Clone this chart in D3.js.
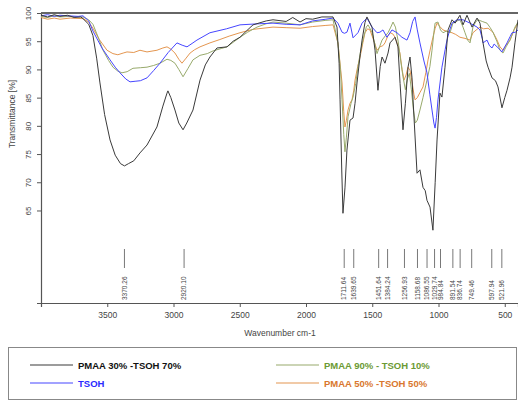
<!DOCTYPE html>
<html>
<head>
<meta charset="utf-8">
<script src="https://cdn.jsdelivr.net/npm/d3@7"></script>
<style>
  body { margin: 0; background: #fff; }
  svg { display: block; font-family: "Liberation Sans", Arial, sans-serif; }
</style>
</head>
<body>
<svg id="chart" width="518" height="405"></svg>
<script>
// ---------- data ----------
const xTicks = [3500, 3000, 2500, 2000, 1500, 1000, 500];
const yTicks = [65, 70, 75, 80, 85, 90, 95, 100];
const peakLabels = ["3370.26","2920.10","1711.64","1639.65","1451.64","1384.24","1256.93","1158.68","1086.55","1029.74","984.84","891.54","836.74","749.46","597.94","521.96"];
const peakPositions = [3370.26,2920.10,1711.64,1639.65,1451.64,1384.24,1256.93,1158.68,1086.55,1029.74,984.84,891.54,836.74,749.46,597.94,521.96];

const seriesNames = ["PMAA 30% -TSOH 70%", "TSOH", "PMAA 90% - TSOH 10%", "PMAA 50% -TSOH 50%"];

// [wavenumber, transmittance]
const pmaa30 = [
 [4000,99.6],[3950,99.3],[3900,99.7],[3857,99.4],[3800,99.6],[3750,99.2],[3700,99.3],[3683,99.0],
 [3640,98.0],[3608,96.0],[3580,92.0],[3555,87.6],[3520,82.0],[3479,77.5],[3440,74.8],[3400,73.3],
 [3370,72.9],[3340,73.3],[3300,73.8],[3253,75.2],[3200,76.6],[3125,79.8],[3080,83.5],[3049,85.8],
 [3042,86.2],[3020,85.0],[2989,82.8],[2960,80.5],[2928,79.3],[2900,80.5],[2853,82.8],[2800,88.1],
 [2760,90.8],[2725,92.2],[2672,93.8],[2596,94.0],[2550,95.0],[2498,95.7],[2450,96.8],[2400,97.9],
 [2300,98.6],[2249,98.8],[2150,98.5],[2100,99.2],[2045,98.4],[2000,99.0],[1950,98.9],[1880,99.3],
 [1796,99.3],[1766,97.5],[1750,91.0],[1743,84.6],[1730,72.0],[1721,64.5],[1706,69.0],[1691,75.7],
 [1668,81.0],[1645,81.4],[1630,84.0],[1615,87.6],[1590,92.8],[1577,95.2],[1555,98.3],[1540,99.3],
 [1502,97.5],[1479,93.4],[1457,86.3],[1440,90.5],[1426,92.2],[1404,91.1],[1381,92.9],[1366,94.7],
 [1328,95.7],[1306,94.0],[1290,87.5],[1268,79.3],[1250,84.0],[1230,90.4],[1215,92.2],[1200,88.5],
 [1192,84.6],[1162,71.6],[1140,72.2],[1117,69.1],[1100,68.5],[1087,66.8],[1064,65.6],[1042,61.5],
 [1025,70.0],[1011,77.5],[989,85.8],[974,85.1],[951,90.4],[928,97.0],[898,98.8],[875,98.2],
 [838,99.6],[815,97.9],[785,99.6],[747,97.5],[709,99.1],[687,98.2],[664,94.7],[640,91.5],
 [626,90.4],[596,88.5],[570,88.0],[551,86.9],[521,83.2],[500,85.0],[483,86.3],[460,88.5],
 [445,90.4],[423,94.7],[400,98.8]
];

const tsoh = [
 [4000,99.5],[3950,99.7],[3900,99.4],[3857,99.6],[3800,99.5],[3720,99.4],[3683,99.5],[3640,98.6],
 [3608,96.8],[3540,93.8],[3479,91.7],[3440,90.4],[3404,89.4],[3360,88.3],[3328,87.8],[3290,87.9],
 [3250,88.0],[3200,88.5],[3150,89.8],[3102,91.1],[3040,93.0],[2974,94.7],[2935,94.3],[2898,94.0],
 [2860,94.6],[2823,95.2],[2725,96.5],[2600,97.2],[2498,97.9],[2350,98.1],[2249,98.2],[2150,98.0],
 [2045,97.9],[1950,98.6],[1850,98.9],[1796,99.1],[1759,98.2],[1728,96.6],[1710,96.4],[1691,96.6],
 [1668,98.2],[1645,95.6],[1608,96.5],[1577,98.2],[1540,99.1],[1502,97.5],[1464,96.5],[1442,96.6],
 [1419,97.0],[1389,95.7],[1351,97.0],[1313,96.5],[1276,95.7],[1238,95.2],[1215,96.5],[1195,98.5],
 [1177,99.3],[1160,97.0],[1140,94.7],[1110,91.5],[1087,89.4],[1065,85.5],[1049,82.8],[1035,80.5],
 [1026,79.6],[1015,81.5],[1004,84.6],[974,90.4],[950,93.5],[936,95.2],[915,97.0],[898,98.2],
 [860,98.8],[815,98.8],[762,98.2],[709,97.5],[687,97.0],[670,95.5],[664,94.7],[634,95.2],
 [615,94.2],[596,93.8],[580,94.5],[558,94.0],[540,93.6],[521,93.1],[500,94.0],[483,94.7],
 [460,95.8],[445,96.5],[420,96.6],[400,97.0]
];

const pmaa90 = [
 [4000,99.4],[3950,99.2],[3900,99.5],[3857,99.3],[3780,99.4],[3683,99.3],[3640,98.8],[3608,98.0],
 [3570,95.8],[3532,93.4],[3490,91.6],[3457,90.4],[3420,89.7],[3389,89.4],[3350,89.6],[3306,90.2],
 [3250,90.3],[3200,90.4],[3150,90.7],[3102,91.1],[3049,91.8],[3020,91.6],[2989,91.1],[2960,90.0],
 [2928,88.7],[2890,90.2],[2853,91.7],[2800,92.5],[2745,92.8],[2700,93.3],[2640,93.7],[2596,94.0],
 [2498,95.7],[2440,96.6],[2370,97.5],[2300,98.1],[2249,98.4],[2150,98.2],[2045,97.9],[1950,98.4],
 [1850,98.7],[1796,98.8],[1759,94.7],[1740,90.0],[1728,84.6],[1715,78.5],[1706,75.4],[1695,78.0],
 [1683,81.6],[1660,84.0],[1645,85.1],[1625,87.5],[1608,90.4],[1590,93.0],[1570,95.2],[1545,97.5],
 [1532,97.9],[1502,96.6],[1480,94.5],[1464,92.8],[1445,94.0],[1426,95.2],[1400,96.0],[1381,96.5],
 [1360,97.5],[1343,98.4],[1325,97.5],[1306,95.2],[1285,91.5],[1268,88.7],[1250,86.4],[1235,88.3],
 [1220,89.3],[1205,86.5],[1190,83.0],[1175,80.5],[1160,81.0],[1140,82.8],[1117,85.0],[1087,88.1],
 [1065,90.5],[1049,93.4],[1035,96.5],[1026,98.2],[1004,98.4],[985,97.0],[966,96.5],[940,96.8],
 [913,96.5],[891,98.2],[860,98.6],[838,98.8],[815,97.5],[800,96.5],[780,95.2],[762,94.7],
 [740,97.5],[720,98.4],[702,98.8],[670,98.5],[634,98.2],[610,97.4],[589,96.6],[560,95.0],
 [536,93.4],[513,92.9],[490,94.0],[460,95.2],[440,96.4],[423,97.5],[400,98.4]
];

const pmaa50 = [
 [4000,99.2],[3950,98.9],[3900,99.1],[3857,98.9],[3780,99.1],[3683,99.0],[3640,98.4],[3608,97.3],
 [3560,95.3],[3502,93.4],[3457,92.8],[3420,92.6],[3380,92.9],[3351,93.1],[3300,93.0],[3253,93.4],
 [3200,93.1],[3125,93.4],[3080,93.8],[3049,94.0],[3020,93.6],[2989,92.9],[2960,91.8],[2936,91.1],
 [2905,92.0],[2875,92.9],[2840,93.5],[2800,94.0],[2725,94.7],[2650,95.3],[2580,95.9],[2498,96.5],
 [2400,97.1],[2249,97.5],[2150,97.4],[2045,97.3],[1950,97.6],[1850,97.8],[1796,97.9],[1759,94.7],
 [1745,91.5],[1728,87.6],[1715,82.5],[1706,79.8],[1695,81.0],[1683,82.8],[1668,84.0],[1653,84.6],
 [1640,86.2],[1630,88.1],[1610,90.5],[1592,92.2],[1570,94.8],[1555,96.5],[1535,97.2],[1517,97.0],
 [1490,95.2],[1464,93.4],[1442,94.0],[1420,94.2],[1404,94.7],[1385,95.8],[1366,96.5],[1345,96.3],
 [1328,95.7],[1310,94.5],[1291,92.9],[1275,90.0],[1260,88.1],[1245,89.0],[1230,90.4],[1215,89.8],
 [1200,87.8],[1185,85.5],[1177,84.6],[1160,85.0],[1140,85.9],[1117,86.9],[1095,89.5],[1079,91.7],
 [1060,93.8],[1042,95.7],[1025,97.3],[1011,98.2],[990,97.6],[966,97.0],[930,96.7],[898,96.5],
 [870,96.2],[838,95.7],[800,95.5],[762,95.2],[740,96.5],[710,97.1],[687,97.5],[660,97.2],
 [626,97.3],[610,97.0],[589,96.6],[560,95.3],[536,94.0],[513,93.4],[490,94.3],[460,95.2],
 [430,97.0],[400,98.2]
];

// ---------- layout ----------
const svg = d3.select("#chart");
const mLeft = 41, mRight = 518, mTop = 13, mBottom = 303;
const x = d3.scaleLinear().domain([4000, 400]).range([mLeft, mRight]);
const y = d3.scaleLinear().domain([48.6, 100]).range([mBottom, mTop]);

const colors = ["#3a3a3a", "#4646ff", "#98aa6c", "#e49650"];
const textColors = ["#111111", "#2a2aff", "#6c9a34", "#d9772e"];
const seriesData = [pmaa30, tsoh, pmaa90, pmaa50];

// axes
const xAxis = d3.axisBottom(x).tickValues(xTicks).tickSize(4).tickFormat(d3.format("d"));
const gx = svg.append("g").attr("transform", `translate(0,${mBottom})`).call(xAxis);
gx.select(".domain").attr("stroke", "#555").attr("stroke-width", 1.2);
gx.selectAll(".tick line").attr("stroke", "#555");
gx.selectAll(".tick text").attr("fill", "#444").attr("font-size", 8.5).attr("dy", "0.9em");

const yAxis = d3.axisLeft(y).tickValues(yTicks).tickSize(4).tickFormat(d3.format("d"));
const gy = svg.append("g").attr("transform", `translate(${mLeft},0)`).call(yAxis);
gy.select(".domain").attr("stroke", "#555").attr("stroke-width", 1.2);
gy.selectAll(".tick line").attr("stroke", "#555");
gy.selectAll(".tick text")
  .attr("fill", "#444").attr("font-size", 8)
  .attr("text-anchor", "middle")
  .attr("transform", "translate(-13,0) rotate(-90)")
  .attr("x", 0).attr("y", 0).attr("dy", "0.32em");

// top border
svg.append("line").attr("x1", mLeft).attr("x2", mRight).attr("y1", y(100)).attr("y2", y(100))
  .attr("stroke", "#666").attr("stroke-width", 2.2);

// axis titles
svg.append("text").attr("x", 280).attr("y", 336).attr("text-anchor", "middle")
  .attr("font-size", 8.5).attr("fill", "#444").text("Wavenumber cm-1");
svg.append("text").attr("transform", "translate(15,114) rotate(-90)").attr("text-anchor", "middle")
  .attr("font-size", 8.5).attr("fill", "#444").text("Transmittance [%]");

// spectra
const line = d3.line().x(d => x(d[0])).y(d => y(d[1]));
const drawOrder = [3, 2, 1, 0];
drawOrder.forEach(i => {
  svg.append("path").datum(seriesData[i]).attr("d", line)
    .attr("fill", "none").attr("stroke", colors[i]).attr("stroke-width", 1);
});

// peak labels
const pg = svg.append("g");
peakPositions.forEach((p, i) => {
  pg.append("line").attr("x1", x(p)).attr("x2", x(p)).attr("y1", 249).attr("y2", 268)
    .attr("stroke", "#555").attr("stroke-width", 0.8);
  pg.append("text").attr("transform", `translate(${x(p)},300) rotate(-90)`)
    .attr("dy", "0.32em").attr("font-size", 6.5).attr("fill", "#444").text(peakLabels[i]);
});

// legend
svg.append("rect").attr("x", 8.5).attr("y", 347.5).attr("width", 508).attr("height", 52)
  .attr("fill", "none").attr("stroke", "#888").attr("stroke-width", 1);
const legPos = [[30, 365], [30, 383], [276, 365], [276, 383]];
seriesNames.forEach((n, i) => {
  const [lx, ly] = legPos[i];
  svg.append("line").attr("x1", lx).attr("x2", lx + 43).attr("y1", ly).attr("y2", ly)
    .attr("stroke", colors[i]).attr("stroke-width", 1.2);
  svg.append("text").attr("x", lx + 48).attr("y", ly + 3.5).attr("font-size", 9.5)
    .attr("font-weight", "bold").attr("fill", textColors[i]).text(n);
});
</script>
</body>
</html>
